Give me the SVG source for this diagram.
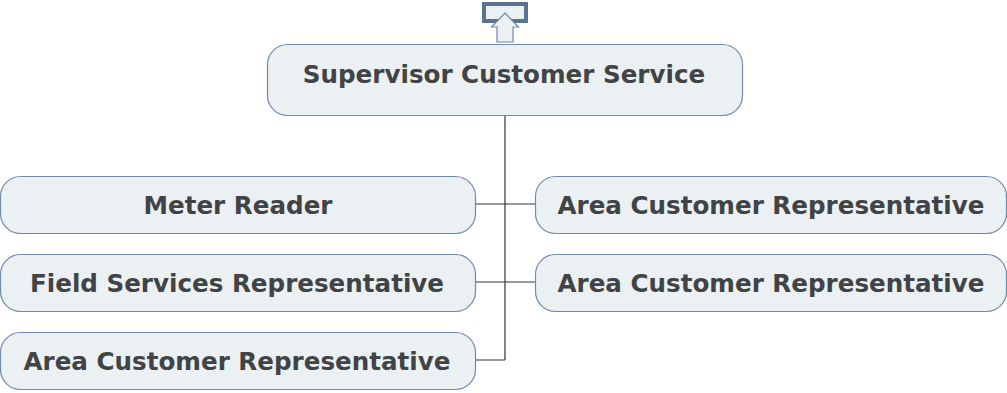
<svg xmlns="http://www.w3.org/2000/svg" width="1007" height="393" viewBox="0 0 1007 393">
<style>
.box{fill:#ebf0f3;stroke:#7189ad;stroke-width:1.2}
.t{font-family:"DejaVu Sans",Verdana,sans-serif;font-weight:bold;font-size:24.6px;fill:#414345;text-anchor:middle}
.c{stroke:#333;stroke-width:1.2;fill:none}
</style>
<rect width="1007" height="393" fill="#fff"/>
<g id="icon">
<rect x="484" y="4" width="42" height="17" fill="#ebf0f3" stroke="#5d7190" stroke-width="4"/>
<path d="M505,13 L518.5,27 L513,27 L513,42 L497,42 L497,27 L491.5,27 Z" fill="#ebf0f3" stroke="#6f86a8" stroke-width="1.2"/>
</g>
<g id="connectors">
<path class="c" d="M505,116 V360 M476,204 H535 M476,282 H535 M476,360 H505"/>
</g>
<g id="n0"><rect class="box" x="267.5" y="44.5" width="475" height="71" rx="20"/><text class="t" x="504" y="83">Supervisor Customer Service</text></g>
<g id="n1"><rect class="box" x="0.5" y="176.5" width="475" height="57" rx="20"/><text class="t" x="238" y="214">Meter Reader</text></g>
<g id="n2"><rect class="box" x="0.5" y="254.5" width="475" height="57" rx="20"/><text class="t" x="237" y="292">Field Services Representative</text></g>
<g id="n3"><rect class="box" x="0.5" y="332.5" width="475" height="57" rx="20"/><text class="t" x="237" y="370">Area Customer Representative</text></g>
<g id="n4"><rect class="box" x="535.5" y="176.5" width="471" height="57" rx="20"/><text class="t" x="771" y="214">Area Customer Representative</text></g>
<g id="n5"><rect class="box" x="535.5" y="254.5" width="471" height="57" rx="20"/><text class="t" x="771" y="292">Area Customer Representative</text></g>
</svg>
